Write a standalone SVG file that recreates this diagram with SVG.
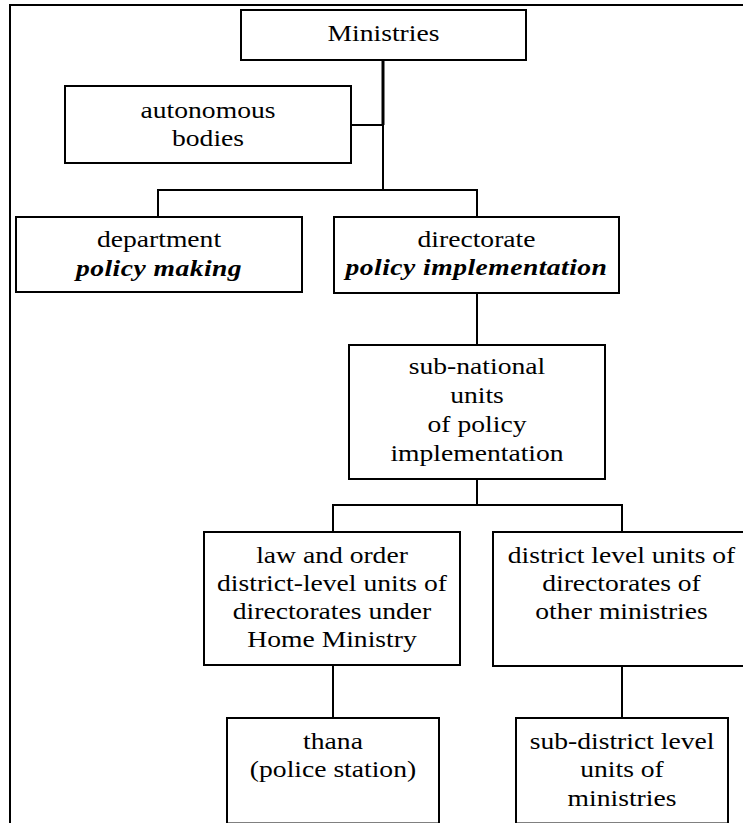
<svg xmlns="http://www.w3.org/2000/svg" width="743" height="823" viewBox="0 0 743 823">
<style>
  .box { fill: #ffffff; stroke: #000000; stroke-width: 2; }
  .conn { fill: none; stroke: #000000; stroke-width: 2; }
  .frame { fill: none; stroke: #000000; stroke-width: 2; }
  .lbl { font-family: "Liberation Serif", "Times New Roman", Tinos, serif; font-size: 24px; fill: #000000; text-anchor: middle; }
  .bi { font-weight: bold; font-style: italic; letter-spacing: 0.4px; }
</style>
<rect x="0" y="0" width="743" height="823" fill="#ffffff"/>
<g id="frame">
  <path class="frame" d="M10,824 V5 H744"/>
</g>
<g id="connectors">
  <path class="conn" d="M383,60 V125" style="stroke-width:3"/>
  <path class="conn" d="M383,125 V190"/>
  <path class="conn" d="M351,125 H383"/>
  <path class="conn" d="M158,217 V190 H477 V217"/>
  <path class="conn" d="M477,293 V345"/>
  <path class="conn" d="M477,479 V505"/>
  <path class="conn" d="M333,532 V505 H622 V532"/>
  <path class="conn" d="M333,665 V718"/>
  <path class="conn" d="M622,666 V718"/>
</g>
<g id="ministries">
  <rect class="box" x="241" y="10" width="285" height="50"/>
  <text class="lbl" transform="translate(383.5,0) scale(1.15,1)" x="0" y="41">Ministries</text>
</g>
<g id="autonomous">
  <rect class="box" x="65" y="86" width="286" height="77"/>
  <text class="lbl" transform="translate(208,0) scale(1.15,1)" x="0" y="118">autonomous</text>
  <text class="lbl" transform="translate(208,0) scale(1.15,1)" x="0" y="146">bodies</text>
</g>
<g id="department">
  <rect class="box" x="16" y="217" width="286" height="75"/>
  <text class="lbl" transform="translate(159,0) scale(1.15,1)" x="0" y="247">department</text>
  <text class="lbl bi" transform="translate(159,0) scale(1.15,1)" x="0" y="276">policy making</text>
</g>
<g id="directorate">
  <rect class="box" x="334" y="217" width="285" height="76"/>
  <text class="lbl" transform="translate(476.5,0) scale(1.15,1)" x="0" y="247">directorate</text>
  <text class="lbl bi" transform="translate(476.5,0) scale(1.15,1)" x="0" y="275">policy implementation</text>
</g>
<g id="subnational">
  <rect class="box" x="349" y="345" width="256" height="134"/>
  <text class="lbl" transform="translate(477,0) scale(1.15,1)" x="0" y="374">sub-national</text>
  <text class="lbl" transform="translate(477,0) scale(1.15,1)" x="0" y="403">units</text>
  <text class="lbl" transform="translate(477,0) scale(1.15,1)" x="0" y="432">of policy</text>
  <text class="lbl" transform="translate(477,0) scale(1.15,1)" x="0" y="461">implementation</text>
</g>
<g id="laworder">
  <rect class="box" x="204" y="532" width="256" height="133"/>
  <text class="lbl" transform="translate(332,0) scale(1.15,1)" x="0" y="563">law and order</text>
  <text class="lbl" transform="translate(332,0) scale(1.15,1)" x="0" y="591">district-level units of</text>
  <text class="lbl" transform="translate(332,0) scale(1.15,1)" x="0" y="619">directorates under</text>
  <text class="lbl" transform="translate(332,0) scale(1.15,1)" x="0" y="647">Home Ministry</text>
</g>
<g id="district">
  <rect class="box" x="493" y="532" width="257" height="134"/>
  <text class="lbl" transform="translate(621.5,0) scale(1.15,1)" x="0" y="563">district level units of</text>
  <text class="lbl" transform="translate(621.5,0) scale(1.15,1)" x="0" y="591">directorates of</text>
  <text class="lbl" transform="translate(621.5,0) scale(1.15,1)" x="0" y="619">other ministries</text>
</g>
<g id="thana">
  <rect class="box" x="227" y="718" width="212" height="105.5"/>
  <text class="lbl" transform="translate(333,0) scale(1.15,1)" x="0" y="749">thana</text>
  <text class="lbl" transform="translate(333,0) scale(1.15,1)" x="0" y="777">(police station)</text>
</g>
<g id="subdistrict">
  <rect class="box" x="516" y="718" width="212" height="105.5"/>
  <text class="lbl" transform="translate(622,0) scale(1.15,1)" x="0" y="749">sub-district level</text>
  <text class="lbl" transform="translate(622,0) scale(1.15,1)" x="0" y="777">units of</text>
  <text class="lbl" transform="translate(622,0) scale(1.15,1)" x="0" y="806">ministries</text>
</g>
</svg>
